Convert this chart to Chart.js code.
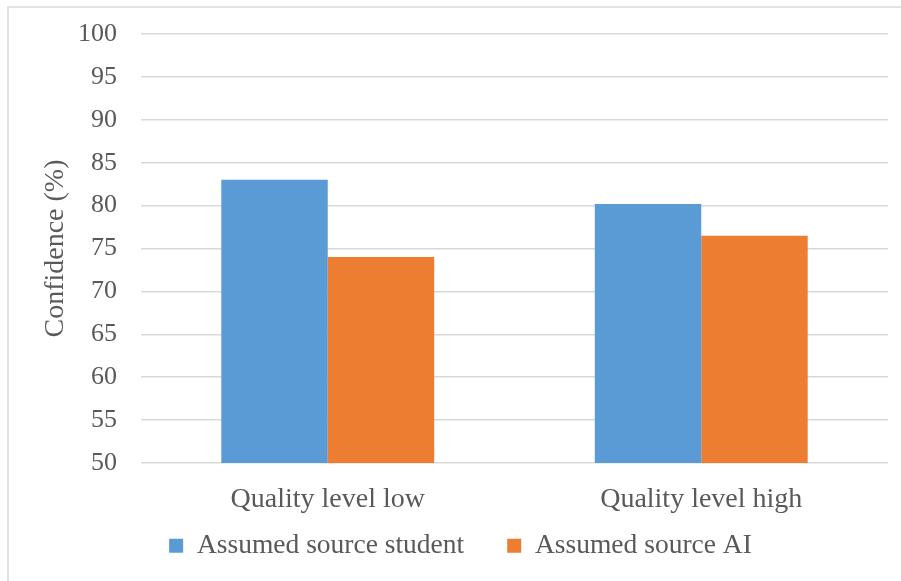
<!DOCTYPE html>
<html>
<head>
<meta charset="utf-8">
<script src="https://cdn.jsdelivr.net/npm/chart.js@4/dist/chart.umd.min.js"></script>
<style>
  html, body { margin: 0; padding: 0; background: #ffffff; }
  #wrap { width: 901px; height: 581px; }
</style>
</head>
<body>
<div id="wrap"><canvas id="c" width="901" height="581"></canvas></div>
<script>
// Categories, series and axis settings
const categories = ['Quality level low', 'Quality level high'];
const studentValues = [83.0, 80.2];
const aiValues = [74.0, 76.5];
const seriesNames = ['Assumed source student', 'Assumed source AI'];
const yTitle = 'Confidence (%)';
const yMin = 50, yMax = 100, yStep = 5;

const FONT = '"Liberation Serif", "Times New Roman", serif';
const TEXT = '#595959';
const GRID = '#d9d9d9';
const LEGEND_GAP = 43;

// White background plus the light frame around the figure
const framePlugin = {
  id: 'frame',
  beforeDraw(chart) {
    const ctx = chart.ctx;
    ctx.save();
    ctx.fillStyle = '#ffffff';
    ctx.fillRect(0, 0, chart.width, chart.height);
    ctx.strokeStyle = GRID;
    ctx.lineWidth = 1.5;
    ctx.beginPath();
    ctx.moveTo(8, chart.height);
    ctx.lineTo(8, 7);
    ctx.lineTo(chart.width, 7);
    ctx.stroke();
    ctx.restore();
  }
};

// The legend's item spacing also pads its row from the top; extend the box
// upward so the row sits close under the axis labels
const legendLift = {
  id: 'legendLift',
  afterLayout(chart) {
    const lg = chart.legend;
    if (!lg) return;
    const lift = LEGEND_GAP - 9;
    lg.top -= lift;
    lg.height = lg.bottom - lg.top;
  }
};

new Chart(document.getElementById('c'), {
  type: 'bar',
  data: {
    labels: categories,
    datasets: [
      { label: seriesNames[0], data: studentValues, backgroundColor: '#5B9BD5', borderWidth: 0 },
      { label: seriesNames[1], data: aiValues, backgroundColor: '#ED7D31', borderWidth: 0 }
    ]
  },
  options: {
    responsive: false,
    animation: false,
    devicePixelRatio: 1,
    layout: { padding: { left: 33, right: 13, top: 34, bottom: 12 } },
    datasets: { bar: { categoryPercentage: 0.57, barPercentage: 1.0 } },
    scales: {
      x: {
        grid: { display: false, drawTicks: false },
        border: { display: false },
        ticks: { color: TEXT, font: { family: FONT, size: 28 }, padding: 20, maxRotation: 0, minRotation: 0, autoSkip: false },
        afterFit(scale) { scale.height = 60; }
      },
      y: {
        min: yMin, max: yMax,
        grid: { color: GRID, lineWidth: 1.5, drawTicks: true, tickLength: 24, tickColor: 'rgba(0,0,0,0)' },
        border: { display: false },
        ticks: { stepSize: yStep, color: TEXT, font: { family: FONT, size: 26 }, padding: 0 },
        title: {
          display: true, text: yTitle, color: TEXT,
          font: { family: FONT, size: 28 }, padding: { top: 6, bottom: 0 }
        },
        afterFit(scale) { scale.width = 108; }
      }
    },
    plugins: {
      legend: {
        position: 'bottom',
        maxHeight: 46,
        labels: {
          color: TEXT,
          font: { family: FONT, size: 27.5 },
          boxWidth: 14, boxHeight: 14,
          padding: LEGEND_GAP
        }
      },
      tooltip: { enabled: false }
    }
  },
  plugins: [framePlugin, legendLift]
});
</script>
</body>
</html>
